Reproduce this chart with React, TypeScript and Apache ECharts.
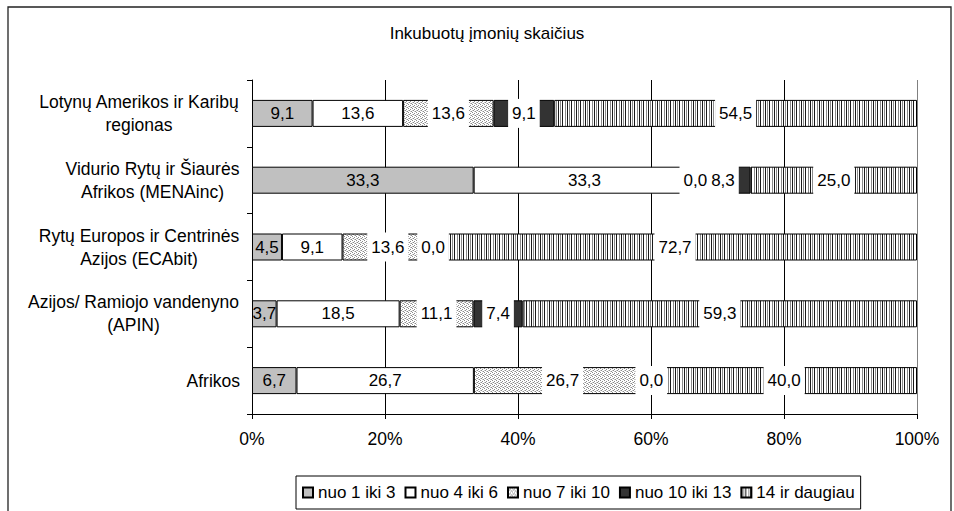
import React, { useEffect, useRef } from "react";
import * as echarts from "echarts";

const TITLE = "Inkubuotų įmonių skaičius";
const CATEGORIES = [
  "Lotynų Amerikos ir Karibų\nregionas",
  "Vidurio Rytų ir Šiaurės\nAfrikos (MENAinc)",
  "Rytų Europos ir Centrinės\nAzijos (ECAbit)",
  "Azijos/ Ramiojo vandenyno\n(APIN)",
  "Afrikos",
];
const SERIES_NAMES = ["nuo 1 iki 3", "nuo 4 iki 6", "nuo 7 iki 10", "nuo 10 iki 13", "14 ir daugiau"];
const S1 = [9.1, 33.3, 4.5, 3.7, 6.7];
const S2 = [13.6, 33.3, 9.1, 18.5, 26.7];
const S3 = [13.6, 0.0, 13.6, 11.1, 26.7];
const S4 = [9.1, 8.3, 0.0, 7.4, 0.0];
const S5 = [54.5, 25.0, 72.7, 59.3, 40.0];
const X_MIN = 0;
const X_MAX = 100;
const X_STEP = 20;

const FONT = "Liberation Sans";

function makeDots(): HTMLCanvasElement {
  const c = document.createElement("canvas");
  c.width = 4;
  c.height = 4;
  const ctx = c.getContext("2d")!;
  ctx.fillStyle = "#ffffff";
  ctx.fillRect(0, 0, 4, 4);
  ctx.fillStyle = "#8c8c8c";
  [[0, 0], [2, 1], [1, 2], [3, 3]].forEach(([x, y]) => ctx.fillRect(x, y, 1, 1));
  ctx.fillStyle = "#c8c8c8";
  [[2, 3], [0, 2]].forEach(([x, y]) => ctx.fillRect(x, y, 1, 1));
  return c;
}

function makeStripes(): HTMLCanvasElement {
  const c = document.createElement("canvas");
  c.width = 9;
  c.height = 4;
  const ctx = c.getContext("2d")!;
  ctx.fillStyle = "#ffffff";
  ctx.fillRect(0, 0, 9, 4);
  ctx.fillStyle = "#1a1a1a";
  ctx.fillRect(0, 0, 1, 4);
  ctx.fillRect(4, 0, 1, 4);
  ctx.fillStyle = "#8a8a8a";
  ctx.fillRect(2, 0, 1, 4);
  ctx.fillRect(7, 0, 1, 4);
  return c;
}

function measure(text: string, size: number): number {
  const c = document.createElement("canvas");
  const ctx = c.getContext("2d")!;
  ctx.font = `${size}px "${FONT}"`;
  return ctx.measureText(text).width;
}

const Y_FONT = 17.5;

export default function App() {
  const ref = useRef<HTMLDivElement>(null);

  useEffect(() => {
    if (!ref.current) return;
    const chart = echarts.init(ref.current, undefined, { renderer: "svg" });

    const raw = [S1, S2, S3, S4, S5];
    const totals = CATEGORIES.map((_, i) => raw.reduce((s, arr) => s + arr[i], 0));
    const fills: any[] = [
      "#c0c0c0",
      "#ffffff",
      { image: makeDots(), repeat: "repeat" },
      "#333333",
      { image: makeStripes(), repeat: "repeat" },
    ];

    const rich: any = {};
    CATEGORIES.forEach((c, i) => {
      const lines = c.split("\n");
      const w = Math.ceil(Math.max(...lines.map((l) => measure(l, Y_FONT)))) + 1;
      rich["c" + i] = {
        width: w,
        align: "center",
        fontSize: Y_FONT,
        lineHeight: 23,
        fontFamily: FONT,
        color: "#000",
      };
    });

    const series = raw.map((arr, si) => ({
      name: SERIES_NAMES[si],
      type: "bar",
      stack: "total",
      barWidth: 27,
      data: arr.map((v, i) => (v / totals[i]) * 100),
      itemStyle: {
        color: fills[si],
        borderColor: "#000",
        borderWidth: 1,
      },
      label: {
        show: true,
        position: "inside",
        fontSize: 17,
        fontFamily: FONT,
        color: "#000",
        backgroundColor: si <= 1 ? "transparent" : "#ffffff",
        padding: [6, 4],
        formatter: (p: any) => raw[si][p.dataIndex].toFixed(1).replace(".", ","),
      },
      emphasis: { disabled: true },
    }));

    chart.setOption({
      animation: false,
      backgroundColor: "#ffffff",
      textStyle: { fontFamily: FONT },
      title: {
        text: TITLE,
        left: 487,
        top: 25,
        textAlign: "center",
        padding: 0,
        textStyle: { fontSize: 17, fontWeight: "normal", color: "#000", fontFamily: FONT },
      },
      graphic: [
        {
          type: "rect",
          shape: { x: 8, y: 7, width: 943, height: 600 },
          style: { fill: "none", stroke: "#222", lineWidth: 1.3 },
          silent: true,
          z: 100,
        },
      ],
      legend: {
        data: SERIES_NAMES,
        left: 296,
        top: 476,
        orient: "horizontal",
        icon: "rect",
        itemWidth: 10,
        itemHeight: 10,
        itemGap: 9,
        padding: [8, 6, 8, 6],
        borderColor: "#000",
        borderWidth: 1,
        textStyle: { fontSize: 17, color: "#000", fontFamily: FONT },
        selectedMode: false,
      },
      grid: { left: 252, right: 37, top: 80, bottom: 97, containLabel: false },
      xAxis: {
        type: "value",
        min: X_MIN,
        max: X_MAX,
        interval: X_STEP,
        axisLine: { show: true, lineStyle: { color: "#000", width: 1 } },
        axisTick: { show: true, length: 5, lineStyle: { color: "#000" } },
        axisLabel: {
          formatter: "{value}%",
          fontSize: 17.5,
          color: "#000",
          fontFamily: FONT,
          margin: 16,
        },
        splitLine: {
          show: true,
          lineStyle: { color: ["#000", "#000", "#000", "#000", "#000", "#808080"], width: 1 },
        },
      },
      yAxis: {
        type: "category",
        inverse: true,
        data: CATEGORIES,
        axisLine: { show: true, lineStyle: { color: "#000", width: 1 } },
        axisTick: { show: true, length: 5, lineStyle: { color: "#000" } },
        axisLabel: {
          fontSize: Y_FONT,
          lineHeight: 23,
          color: "#000",
          fontFamily: FONT,
          margin: 12,
          rich,
          formatter: (value: string, idx: number) => {
            const lines = value.split("\n");
            if (lines.length === 1) return value;
            return lines.map((l) => `{c${idx}|${l}}`).join("\n");
          },
        },
        splitLine: { show: false },
      },
      series,
    });

    return () => chart.dispose();
  }, []);

  return (
    <div
      ref={ref}
      style={{ position: "fixed", left: 0, top: 0, width: 954, height: 511 }}
    />
  );
}
